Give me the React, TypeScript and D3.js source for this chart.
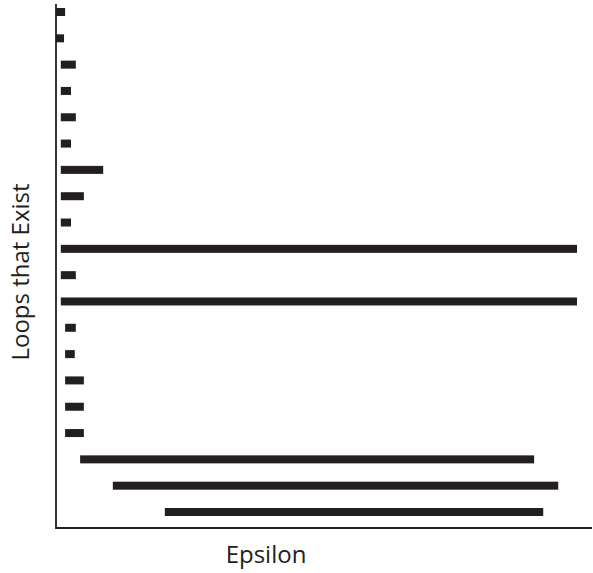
import * as d3 from "d3";

// persistence barcode: one bar per loop, from the epsilon it appears to the epsilon it dies
const loops = [
  "L1", "L2", "L3", "L4", "L5", "L6", "L7", "L8", "L9", "L10",
  "L11", "L12", "L13", "L14", "L15", "L16", "L17", "L18", "L19", "L20",
];
const births = [
  0, 0, 0.09, 0.09, 0.09, 0.09, 0.09, 0.09, 0.09, 0.09,
  0.09, 0.09, 0.17, 0.17, 0.17, 0.17, 0.17, 0.45, 1.06, 2.03,
];
const deaths = [
  0.17, 0.15, 0.37, 0.28, 0.37, 0.28, 0.88, 0.52, 0.28, 9.72,
  0.37, 9.72, 0.37, 0.35, 0.52, 0.52, 0.52, 8.92, 9.37, 9.09,
];
const xLabel = "Epsilon";
const yLabel = "Loops that Exist";

const W = 593;
const H = 573;
const INK = "#231f20";
const BAR_H = 8;

export default function App() {
  const x = d3.scaleLinear().domain([0, 10]).range([56, 592]);
  const y = d3.scalePoint<string>().domain(loops).range([12, 512]);

  const axisTop = 4;
  const axisBottom = 528;

  return (
    <svg
      width={W}
      height={H}
      style={{ position: "absolute", left: 0, top: 0, background: "#fff" }}
      fontFamily="'Open Sans', sans-serif"
    >
      <rect width={W} height={H} fill="#fff" />
      {loops.map((id, i) => (
        <rect
          key={id}
          x={x(births[i])}
          y={y(id)! - BAR_H / 2}
          width={x(deaths[i]) - x(births[i])}
          height={BAR_H}
          fill={INK}
        />
      ))}
      <line
        x1={x(0)}
        x2={x(0)}
        y1={axisTop}
        y2={axisBottom}
        stroke={INK}
        strokeWidth={1.8}
      />
      <line
        x1={x(0) - 0.9}
        x2={x(10)}
        y1={axisBottom}
        y2={axisBottom}
        stroke={INK}
        strokeWidth={1.8}
      />
      <text
        x={266}
        y={563}
        textAnchor="middle"
        fontSize={24}
        fill={INK}
      >
        {xLabel}
      </text>
      <text
        transform={`translate(29,272) rotate(-90)`}
        textAnchor="middle"
        fontSize={24}
        fill={INK}
      >
        {yLabel}
      </text>
    </svg>
  );
}
